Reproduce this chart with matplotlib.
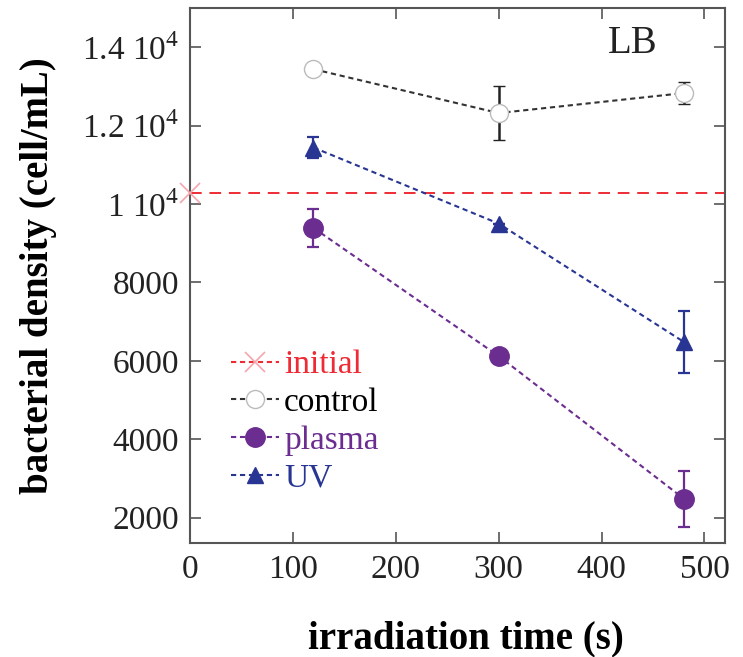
#!/usr/bin/env python3
"""Bacterial density vs irradiation time in LB medium."""

import matplotlib.pyplot as plt

# data
times = [120, 300, 480]
initial_time = 0
initial_density = 10280

control = [13440, 12320, 12830]
control_err = [0, 700, 270]

plasma = [9390, 6120, 2480]
plasma_err = [490, 0, 720]

uv = [11440, 9500, 6480]
uv_err = [260, 0, 790]

x_ticks = [0, 100, 200, 300, 400, 500]
y_ticks = [2000, 4000, 6000, 8000, 10000, 12000, 14000]
y_tick_labels = ["2000", "4000", "6000", "8000",
                 r"1 10$^{4}$", r"1.2 10$^{4}$", r"1.4 10$^{4}$"]

RED = "#ee2b34"
PINK = "#f4a6ad"
PURPLE = "#6b2d90"
BLUE = "#283593"
INK = "#222222"


def main() -> None:
    plt.rcParams["font.family"] = "Liberation Serif"
    plt.rcParams["mathtext.fontset"] = "custom"
    plt.rcParams["mathtext.rm"] = "Liberation Serif"

    fig = plt.figure(figsize=(7.43, 6.57), dpi=100, facecolor="white")
    ax = fig.add_axes([0.2557, 0.1735, 0.7201, 0.8143])

    dash = (0, (2.5, 1.8))

    ax.axhline(initial_density, color=RED, linestyle=(0, (6, 4)), linewidth=1.4, zorder=1)
    h_init, = ax.plot([initial_time], [initial_density], linestyle=dash, color=RED,
                      marker="x", markersize=14, markeredgecolor=PINK,
                      markeredgewidth=1.2, clip_on=False, zorder=3)

    c = ax.errorbar(times, control, yerr=control_err, color="#333333", linestyle=dash,
                    linewidth=1.5, marker="o", markersize=13, markerfacecolor="white",
                    markeredgecolor="#bbbbbb", markeredgewidth=1.0, ecolor=INK,
                    elinewidth=1.8, capsize=4, capthick=1.8, zorder=4)
    p = ax.errorbar(times, plasma, yerr=plasma_err, color=PURPLE, linestyle=dash,
                    linewidth=1.5, marker="o", markersize=14, markeredgecolor=PURPLE,
                    ecolor=PURPLE, elinewidth=1.6, capsize=4, capthick=1.6, zorder=4)
    u = ax.errorbar(times, uv, yerr=uv_err, color=BLUE, linestyle=dash,
                    linewidth=1.5, marker="^", markersize=12, markeredgecolor=BLUE,
                    ecolor=BLUE, elinewidth=1.6, capsize=4, capthick=1.6, zorder=4)

    ax.set_xlim(0, 520)
    ax.set_ylim(1350, 15000)
    ax.set_xticks(x_ticks)
    ax.set_yticks(y_ticks)
    ax.set_yticklabels(y_tick_labels)
    ax.tick_params(direction="in", length=8, width=1.2, color="#555555",
                   labelsize=24, labelcolor=INK, top=True, right=True, pad=8)
    for spine in ax.spines.values():
        spine.set_color("#555555")
        spine.set_linewidth(1.5)

    ax.set_xlabel("irradiation time (s)", fontsize=28, fontweight="bold")
    ax.xaxis.set_label_coords(0.515, -0.144)
    ax.set_ylabel("bacterial density (cell/mL)", fontsize=28, fontweight="bold")
    ax.yaxis.set_label_coords(-0.249, 0.5)

    ax.text(0.873, 0.968, "LB", transform=ax.transAxes, fontsize=28,
            ha="right", va="top", color=INK)

    handles = [h_init, c.lines[0], p.lines[0], u.lines[0]]
    labels = ["initial", "control", "plasma", "UV"]
    leg = ax.legend(handles, labels, loc="lower left", bbox_to_anchor=(0.051, 0.067),
                    frameon=False, fontsize=24, handlelength=1.45, handletextpad=0.15,
                    labelspacing=0.22, borderaxespad=0)
    for text, col in zip(leg.get_texts(), [RED, "black", PURPLE, BLUE]):
        text.set_color(col)

    fig.savefig("out.png", dpi=100, facecolor="white")
    plt.close(fig)


if __name__ == "__main__":
    main()
